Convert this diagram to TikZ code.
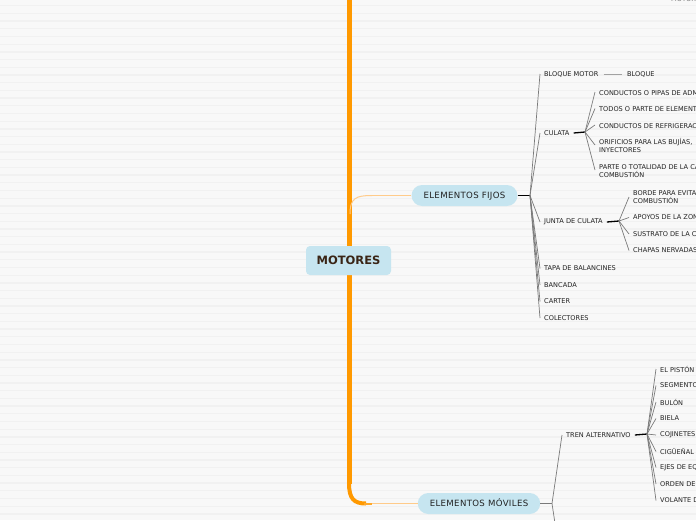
\documentclass[tikz,border=0pt]{standalone}
\usepackage{fontspec}
\setmainfont{DejaVu Sans}
\newfontfamily\catfont[LetterSpace=4]{DejaVu Sans}
\definecolor{bg}{HTML}{F8F8F8}
\definecolor{stripe}{HTML}{F1F1F1}
\definecolor{orangeM}{HTML}{FF9900}
\definecolor{orangeL}{HTML}{FFCB8A}
\definecolor{nodeblue}{HTML}{C6E5F0}
\definecolor{txt}{HTML}{222222}
\definecolor{roottxt}{HTML}{3A2516}
\definecolor{conn}{HTML}{7A7A7A}
\tikzset{
  leaf/.style={anchor=west, inner sep=0pt, yshift=-1pt, font=\fontsize{6.6}{8}\selectfont, text=txt, align=left},
  cat/.style={fill=nodeblue, rounded corners=10.5pt, minimum height=21pt, inner xsep=12pt, inner ysep=0pt, text height=6.3pt, text depth=0pt, font=\catfont\fontsize{8.6}{10}\selectfont, text=txt},
  root/.style={fill=nodeblue, rounded corners=4pt, minimum width=85pt, minimum height=29pt, inner sep=0pt, font=\fontsize{11.5}{13}\selectfont\bfseries, text=roottxt},
  hubline/.style={black, line width=1.3pt},
  twig/.style={conn, line width=0.7pt},
  mainline/.style={orangeM, line width=5pt},
  thinorange/.style={orangeL, line width=1pt},
}
\begin{document}
\begin{tikzpicture}[x=1pt,y=-1pt]
\useasboundingbox (0,0) rectangle (696,520);
\clip (0,0) rectangle (696,520);
\fill[bg] (0,0) rectangle (696,520);
\foreach \i in {0,...,68} \fill[stripe] (0,{\i*7.7+5}) rectangle (696,{\i*7.7+6.3});

% orange trunk
\draw[mainline] (349,-5) -- (349,484);
\draw[orangeM, line width=4pt] (349,483) .. controls (349,499) and (354,503.5) .. (366,503.5);
\draw[orangeM!70!orangeL, line width=2pt] (364,503.5) -- (372,503.5);
\draw[thinorange] (350,214) .. controls (350,198) and (356,195.5) .. (372,195.5);

% main nodes
\node[root] (motores) at (348.5,260.5) {MOTORES};
\node[cat] (fijos) at (464.5,195.5) {ELEMENTOS FIJOS};
\node[cat] (moviles) at (479,503.5) {ELEMENTOS MÓVILES};
\draw[thinorange] (372,195.5) -- (fijos.west);
\draw[thinorange] (372,503.5) -- (moviles.west);

\node[leaf, text=conn] (topmot) at (671,-1.5) {MOTORES};

% elementos fijos
\coordinate (hf) at (530,195.5);
\draw[hubline] (fijos.east) -- (hf);
\node[leaf] (bm) at (544,73) {BLOQUE MOTOR};
\node[leaf] (bloque) at (627,73) {BLOQUE};
\node[leaf] (culata) at (544,132) {CULATA};
\node[leaf] (junta) at (544,221) {JUNTA DE CULATA};
\node[leaf] (tapa) at (544,267.5) {TAPA DE BALANCINES};
\node[leaf] (bancada) at (544,284) {BANCADA};
\node[leaf] (carter) at (544,300.5) {CARTER};
\node[leaf] (colectores) at (544,317) {COLECTORES};
\foreach \n in {bm,culata,junta,tapa,bancada,carter,colectores}
  \draw[twig] (hf) -- ([xshift=-4pt]\n.west);
\draw[conn!70, line width=0.8pt] ([xshift=5pt]bm.east) -- ([xshift=-5pt]bloque.west);

% culata
\coordinate (hc) at (585,132);
\draw[hubline] ([xshift=4pt]culata.east) -- (hc);
\node[leaf] (c1) at (599,91) {CONDUCTOS O PIPAS DE ADMISIÓN Y ESCAPE};
\node[leaf] (c2) at (599,107.5) {TODOS O PARTE DE ELEMENTOS DE LA DISTRIBUCIÓN};
\node[leaf] (c3) at (599,124) {CONDUCTOS DE REFRIGERACIÓN};
\node[leaf] (c4) at (599,144) {ORIFICIOS PARA LAS BUJÍAS,\\INYECTORES};
\node[leaf] (c5) at (599,169) {PARTE O TOTALIDAD DE LA CÁMARA DE\\COMBUSTIÓN};
\foreach \n in {c1,c2,c3,c4,c5}
  \draw[twig] (hc) -- ([xshift=-4pt]\n.west);

% junta de culata
\coordinate (hj) at (619,221);
\draw[hubline] ([xshift=4pt]junta.east) -- (hj);
\node[leaf] (j1) at (633,196) {BORDE PARA EVITAR FUGAS DE LA\\COMBUSTIÓN};
\node[leaf] (j2) at (633,216.5) {APOYOS DE LA ZONA DE LAS CAMISAS};
\node[leaf] (j3) at (633,233) {SUSTRATO DE LA CULATA};
\node[leaf] (j4) at (633,249.5) {CHAPAS NERVADAS};
\foreach \n in {j1,j2,j3,j4}
  \draw[twig] (hj) -- ([xshift=-4pt]\n.west);

% elementos moviles
\coordinate (hm) at (552,503.5);
\coordinate (offdown) at (556,530);
\draw[conn, line width=1.3pt] (moviles.east) -- (hm);
\node[leaf] (tren) at (566,434) {TREN ALTERNATIVO};
\draw[twig] (hm) -- ([xshift=-4pt]tren.west);
\draw[twig] (hm) -- (offdown);

\coordinate (ht) at (647,434);
\draw[hubline] ([xshift=4pt]tren.east) -- (ht);
\node[leaf] (t1) at (660,368) {EL PISTÓN};
\node[leaf] (t2) at (660,384.5) {SEGMENTOS};
\node[leaf] (t3) at (660,401) {BULÓN};
\node[leaf] (t4) at (660,417.5) {BIELA};
\node[leaf] (t5) at (660,434) {COJINETES};
\node[leaf] (t6) at (660,450.5) {CIGÜEÑAL};
\node[leaf] (t7) at (660,466.5) {EJES DE EQUILIBRADO};
\node[leaf] (t8) at (660,483) {ORDEN DE ENCENDIDO};
\node[leaf] (t9) at (660,499.5) {VOLANTE DE INERCIA};
\foreach \n in {t1,t2,t3,t4,t5,t6,t7,t8,t9}
  \draw[twig] (ht) -- ([xshift=-4pt]\n.west);
\end{tikzpicture}
\end{document}
